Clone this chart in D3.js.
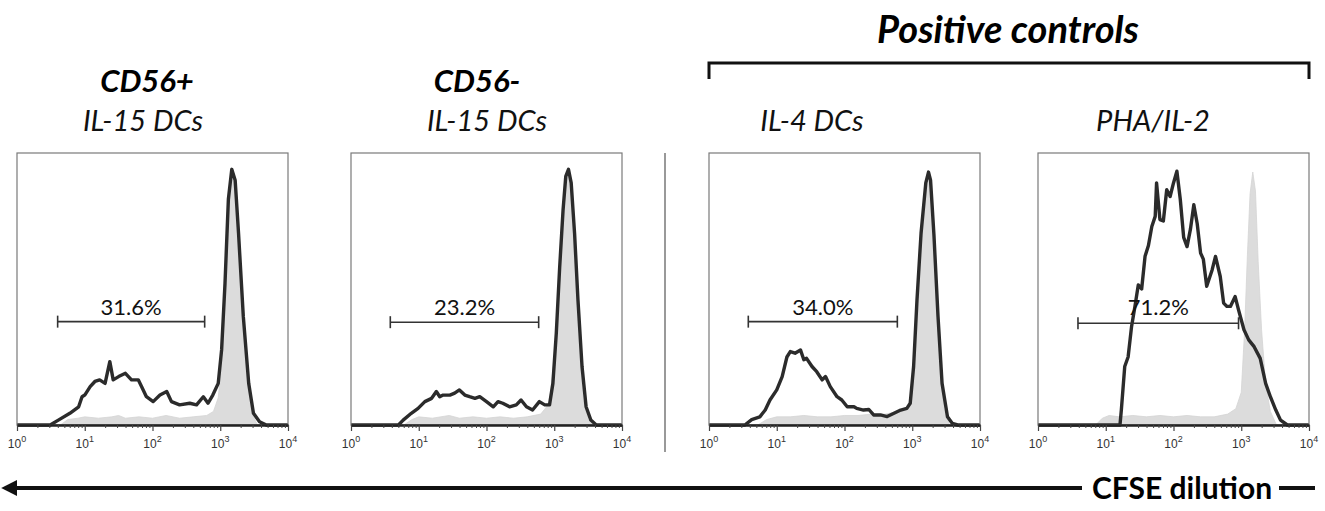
<!DOCTYPE html>
<html>
<head>
<meta charset="utf-8">
<script src="https://cdn.jsdelivr.net/npm/d3@7"></script>
<style>
  body { margin: 0; background: #fff; }
  svg { display: block; }
  .tick-lbl { font-family: "Liberation Sans", Arial, sans-serif; font-size: 12px; fill: #333; }
</style>
</head>
<body>
<svg id="chart"></svg>
<script>
// values: [log10 CFSE, % of max count]
var cd56posStim = [[0.49,0],[0.61,1.8],[0.78,4.3],[0.91,6.7],[0.96,10.4],[1.0,11],[1.08,14.1],[1.15,16],[1.22,16.6],[1.30,15.3],[1.37,23.3],[1.42,16.6],[1.5,17.8],[1.6,19],[1.69,16.6],[1.79,16.6],[1.84,14.1],[1.91,10.4],[2.01,8.6],[2.11,11],[2.21,12.3],[2.28,8.6],[2.40,7.4],[2.55,8],[2.65,7.4],[2.75,10.4],[2.82,8],[2.89,11],[2.97,15.3],[3.02,27.6],[3.07,52],[3.12,83],[3.17,94],[3.22,90],[3.27,70.5],[3.34,40],[3.42,15.3],[3.49,4.3],[3.58,1.2],[3.68,0]];
var cd56posCtrl = [[0.64,0],[0.75,2],[0.9,2.5],[1.0,3],[1.2,2.5],[1.4,3],[1.5,3.5],[1.6,2.5],[1.8,3],[2.0,2.5],[2.2,3.5],[2.4,2.5],[2.6,3],[2.8,3.5],[2.9,5],[2.97,10],[3.03,25],[3.08,50],[3.12,75],[3.15,88],[3.17,92],[3.2,90],[3.24,80],[3.28,65],[3.32,45],[3.37,28],[3.42,13],[3.47,4],[3.55,0]];

var cd56negStim = [[0.70,0],[0.77,1.8],[0.89,4.3],[0.99,6.1],[1.09,8.6],[1.19,9.8],[1.26,12.3],[1.31,10.4],[1.36,11],[1.46,11],[1.53,11.7],[1.60,12.9],[1.68,11],[1.75,10.4],[1.83,9.8],[1.90,10.4],[2.0,8.6],[2.10,6.7],[2.17,8.6],[2.24,8],[2.34,6.7],[2.44,7.4],[2.51,9.2],[2.59,6.7],[2.68,5.5],[2.78,8.6],[2.86,7.4],[2.93,7.4],[2.98,15.3],[3.03,33.7],[3.08,58],[3.13,79],[3.17,91.4],[3.21,94],[3.25,89],[3.30,70.5],[3.35,46],[3.41,21.5],[3.47,6.7],[3.54,1.8],[3.62,0]];
var cd56negCtrl = [[0.78,0],[0.9,2],[1.0,3],[1.2,2.5],[1.45,3.5],[1.6,2.5],[1.8,3],[2.0,2.5],[2.2,3],[2.4,2.5],[2.6,3],[2.8,4],[2.93,8],[3.0,25],[3.05,45],[3.1,70],[3.15,85],[3.2,92],[3.24,88],[3.28,72],[3.33,48],[3.38,25],[3.43,9],[3.5,2],[3.58,0]];

var il4Stim = [[0.53,0],[0.63,2],[0.75,3],[0.83,5.5],[0.90,9.2],[1.0,12.9],[1.08,17.8],[1.15,25],[1.20,27],[1.27,26.4],[1.35,27.6],[1.40,24],[1.44,24.5],[1.52,21.5],[1.59,19.6],[1.67,16.6],[1.72,17.8],[1.79,14.1],[1.89,10.4],[1.96,9.2],[2.04,6.7],[2.14,6.7],[2.18,6.1],[2.28,5.5],[2.36,5.7],[2.43,3.7],[2.53,3.7],[2.63,3.1],[2.73,4.3],[2.83,5.5],[2.92,6.1],[2.97,8],[3.02,21.5],[3.07,46],[3.13,70.5],[3.20,89],[3.24,93],[3.27,90],[3.32,70],[3.38,40],[3.44,15.3],[3.52,3],[3.59,0.6],[3.67,0]];
var il4Ctrl = [[0.72,0],[0.85,2],[1.0,3],[1.2,3],[1.4,3.5],[1.6,3],[1.8,3],[2.0,3.5],[2.2,3.5],[2.4,4],[2.6,4],[2.8,5],[2.95,7],[3.02,18],[3.08,40],[3.13,65],[3.18,85],[3.23,92],[3.27,88],[3.31,70],[3.36,45],[3.41,20],[3.47,6],[3.55,0]];

var phaStim = [[1.21,0],[1.23,5.5],[1.28,21.5],[1.33,25],[1.38,36],[1.43,43.5],[1.48,51.5],[1.53,50],[1.58,62],[1.63,66],[1.68,73],[1.73,76.7],[1.75,89],[1.80,75.5],[1.85,75],[1.90,86.5],[1.95,84],[2.0,89],[2.05,93.3],[2.10,83],[2.15,69],[2.20,65.6],[2.25,72],[2.30,81],[2.35,74],[2.40,63.2],[2.44,61],[2.49,51],[2.57,57],[2.62,62],[2.69,54.6],[2.74,44.8],[2.79,43.6],[2.84,43.6],[2.91,47.2],[2.96,42.3],[3.04,35],[3.11,31.3],[3.19,28.8],[3.28,24.5],[3.36,15.3],[3.43,10.4],[3.51,5.5],[3.58,1.8],[3.68,0]];
var phaCtrl = [[0.85,0],[0.95,2.5],[1.05,3.5],[1.2,3],[1.4,3.5],[1.6,3],[1.8,3.5],[2.0,3],[2.2,3.5],[2.4,3],[2.6,3],[2.8,4],[2.92,6],[3.0,12],[3.05,35],[3.09,62],[3.13,85],[3.17,93],[3.21,86],[3.25,60],[3.3,35],[3.36,15],[3.43,5],[3.52,0]];

var panelNames = ["CD56+ IL-15 DCs", "CD56- IL-15 DCs", "IL-4 DCs", "PHA/IL-2"];
var gateLabels = ["31.6%", "23.2%", "34.0%", "71.2%"];
var gateFrom = [0.6, 0.58, 0.58, 0.59];    // log10
var gateTo = [2.77, 2.77, 2.78, 2.96];
var gateLevel = [38, 37.8, 38, 37.4];      // % of max
var labelLevel = [40.5, 40.5, 40.5, 40.5];
var decades = [0, 1, 2, 3, 4];

var stimSeries = [cd56posStim, cd56negStim, il4Stim, phaStim];
var ctrlSeries = [cd56posCtrl, cd56negCtrl, il4Ctrl, phaCtrl];

var W = 1325, H = 511;
var panelLeft = [17, 351, 709, 1038];
var panelW = 271, panelTop = 153, panelH = 272;

var svg = d3.select("#chart").attr("width", W).attr("height", H);

var y = d3.scaleLinear().domain([0, 100]).range([panelH, 0]);

panelNames.forEach(function (name, i) {
    var g = svg.append("g").attr("transform", `translate(${panelLeft[i]},${panelTop})`);
    var x = d3.scaleLog().domain([1, 1e4]).range([0, panelW]);

    // pad series with zero baseline at both ends of the range
    var pad = s => [[0, 0]].concat(s, [[4, 0]]);
    var area = d3.area()
        .x(d => x(Math.pow(10, d[0])))
        .y0(y(0))
        .y1(d => y(d[1]));
    var line = d3.line()
        .x(d => x(Math.pow(10, d[0])))
        .y(d => y(d[1]));

    g.append("path")
        .datum(pad(ctrlSeries[i]))
        .attr("d", area)
        .attr("fill", "#dcdcdc")
        .attr("stroke", "#d4d4d4")
        .attr("stroke-width", 0.8);

    g.append("path")
        .datum(pad(stimSeries[i]))
        .attr("d", line)
        .attr("fill", "none")
        .attr("stroke", "#2b2b2b")
        .attr("stroke-width", 3.4)
        .attr("stroke-linejoin", "round");

    // frame
    g.append("rect")
        .attr("width", panelW).attr("height", panelH)
        .attr("fill", "none")
        .attr("stroke", "#7a7a7a")
        .attr("stroke-width", 1.2);

    // minor ticks
    var minor = [];
    for (var d = 0; d < 4; d++) for (var m = 2; m <= 9; m++) minor.push(m * Math.pow(10, d));
    g.append("g")
        .attr("transform", `translate(0,${panelH})`)
        .call(d3.axisBottom(x).tickValues(minor).tickSize(3).tickSizeOuter(0).tickFormat(""))
        .call(a => a.select(".domain").attr("stroke", "#222").attr("stroke-width", 2.5))
        .call(a => a.selectAll(".tick line").attr("stroke", "#444").attr("stroke-width", 1));
    g.append("g")
        .attr("transform", `translate(0,${panelH})`)
        .call(d3.axisBottom(x).tickValues(decades.map(e => Math.pow(10, e))).tickSize(6).tickSizeOuter(0).tickFormat(""))
        .call(a => a.select(".domain").remove())
        .call(a => a.selectAll(".tick line").attr("stroke", "#444").attr("stroke-width", 1.2));

    var lbl = g.selectAll(".tick-lbl").data(decades).enter()
        .append("text")
        .attr("class", "tick-lbl")
        .attr("x", e => x(Math.pow(10, e)))
        .attr("y", panelH + 23)
        .attr("text-anchor", "middle");
    lbl.append("tspan").text("10");
    lbl.append("tspan").attr("dy", -6).attr("font-size", "9px").text(e => e);

    // gate bar
    var gx0 = x(Math.pow(10, gateFrom[i])), gx1 = x(Math.pow(10, gateTo[i])), gy = y(gateLevel[i]);
    g.append("line").attr("x1", gx0).attr("x2", gx1).attr("y1", gy).attr("y2", gy)
        .attr("stroke", "#333").attr("stroke-width", 1.6);
    [gx0, gx1].forEach(function (xx) {
        g.append("line").attr("x1", xx).attr("x2", xx).attr("y1", gy - 6).attr("y2", gy + 6)
            .attr("stroke", "#333").attr("stroke-width", 1.6);
    });
    g.append("text")
        .attr("x", (gx0 + gx1) / 2)
        .attr("y", y(labelLevel[i]))
        .attr("text-anchor", "middle")
        .style("font-family", "Lato, 'Open Sans', sans-serif")
        .style("font-size", "22px")
        .style("fill", "#111")
        .text(gateLabels[i]);
});

// titles
var titleFont = "Lato, 'Open Sans', sans-serif";
var boldTitles = [["CD56+", 147], ["CD56-", 477]];
boldTitles.forEach(function (t) {
    svg.append("text").attr("x", t[1]).attr("y", 92).attr("text-anchor", "middle")
        .style("font-family", titleFont).style("font-size", "31px")
        .style("font-weight", "bold").style("font-style", "italic")
        .text(t[0]);
});
var subTitles = [["IL-15 DCs", 143], ["IL-15 DCs", 487], ["IL-4 DCs", 812], ["PHA/IL-2", 1153]];
subTitles.forEach(function (t) {
    svg.append("text").attr("x", t[1]).attr("y", 131).attr("text-anchor", "middle")
        .style("font-family", titleFont).style("font-size", "29px")
        .style("font-style", "italic").style("fill", "#111")
        .text(t[0]);
});

svg.append("text").attr("x", 1008).attr("y", 43).attr("text-anchor", "middle")
    .style("font-family", titleFont).style("font-size", "38px")
    .style("font-weight", "bold").style("font-style", "italic")
    .text("Positive controls");

// bracket over positive controls
svg.append("path")
    .attr("d", "M709,79 V63 H1309 V79")
    .attr("fill", "none").attr("stroke", "#111").attr("stroke-width", 3);

// separator
svg.append("line").attr("x1", 665).attr("x2", 665).attr("y1", 153).attr("y2", 452)
    .attr("stroke", "#555").attr("stroke-width", 1.2);

// CFSE dilution arrow
svg.append("defs").append("marker")
    .attr("id", "head").attr("viewBox", "0 0 10 10")
    .attr("refX", 2).attr("refY", 5)
    .attr("markerWidth", 4).attr("markerHeight", 4)
    .attr("orient", "auto-start-reverse")
    .append("path").attr("d", "M0,0 L10,5 L0,10 z").attr("fill", "#111");
svg.append("line").attr("x1", 14).attr("x2", 1082).attr("y1", 488).attr("y2", 488)
    .attr("stroke", "#111").attr("stroke-width", 4)
    .attr("marker-start", "url(#head)");
svg.append("text").attr("x", 1092).attr("y", 499)
    .style("font-family", titleFont).style("font-size", "30px").style("font-weight", "bold")
    .text("CFSE dilution");
svg.append("line").attr("x1", 1279).attr("x2", 1315).attr("y1", 488).attr("y2", 488)
    .attr("stroke", "#111").attr("stroke-width", 4);
</script>
</body>
</html>
